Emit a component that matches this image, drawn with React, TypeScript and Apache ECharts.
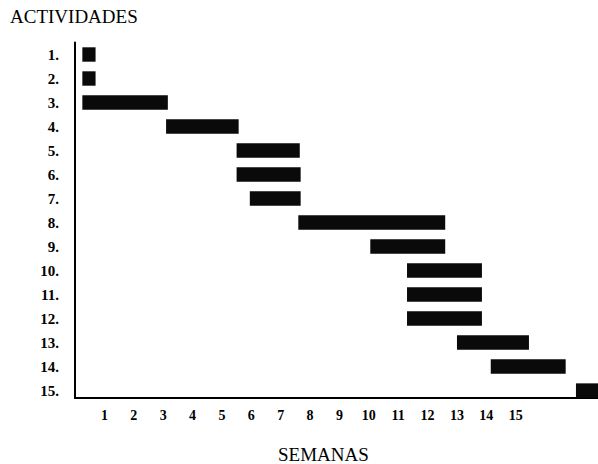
import React, { useEffect, useRef } from "react";
import * as echarts from "echarts";

// Activities (rows) and their start / end in weeks
const activities = ["1.", "2.", "3.", "4.", "5.", "6.", "7.", "8.", "9.", "10.", "11.", "12.", "13.", "14.", "15."];
const startWeek = [0.25, 0.25, 0.25, 3.1, 5.5, 5.5, 5.95, 7.6, 10.05, 11.3, 11.3, 11.3, 13.0, 14.15, 17.05];
const endWeek = [0.7, 0.7, 3.16, 5.57, 7.65, 7.68, 7.68, 12.6, 12.6, 13.85, 13.85, 13.85, 15.45, 16.7, 17.8];
const weekLabels = ["1", "2", "3", "4", "5", "6", "7", "8", "9", "10", "11", "12", "13", "14", "15"];

const FONT = "'Liberation Serif', 'DejaVu Serif', serif";

export default function App() {
  const ref = useRef<HTMLDivElement>(null);
  useEffect(() => {
    if (!ref.current) return;
    const chart = echarts.init(ref.current, undefined, { renderer: "svg" });
    const rows = activities.map((_, i) => i + 1);
    const data = activities.map((_, i) => [i + 1, startWeek[i], endWeek[i]]);
    chart.setOption({
      animation: false,
      backgroundColor: "#fff",
      title: [
        {
          text: "ACTIVIDADES",
          left: 10,
          top: 7,
          padding: 0,
          textStyle: { fontFamily: FONT, fontSize: 19, fontWeight: "normal", color: "#000" },
        },
        {
          text: "SEMANAS",
          left: 278,
          top: 445,
          padding: 0,
          textStyle: { fontFamily: FONT, fontSize: 19, fontWeight: "normal", color: "#000" },
        },
      ],
      grid: { left: 75, right: 0, top: 42.5, bottom: 66, containLabel: false },
      xAxis: {
        type: "value",
        min: 0,
        max: 17.8,
        interval: 1,
        axisLine: { show: true, lineStyle: { color: "#000", width: 2 } },
        axisTick: { show: false },
        splitLine: { show: false },
        axisLabel: {
          margin: 10,
          fontFamily: FONT,
          fontSize: 14,
          fontWeight: "bold",
          color: "#000",
          showMaxLabel: false,
          formatter: (v: number) => weekLabels[v - 1] ?? "",
        },
      },
      yAxis: {
        type: "value",
        inverse: true,
        min: 0.5,
        max: 15.31,
        axisLine: { show: true, lineStyle: { color: "#000", width: 2 } },
        axisTick: { show: false },
        splitLine: { show: false },
        axisLabel: {
          margin: 16,
          fontFamily: FONT,
          fontSize: 15,
          fontWeight: "bold",
          color: "#000",
          customValues: rows,
          formatter: (v: number) => activities[v - 1] ?? "",
        },
      },
      series: [
        {
          type: "custom",
          encode: { x: [1, 2], y: 0 },
          data,
          renderItem: (params: any, api: any) => {
            const row = api.value(0);
            const s = api.coord([api.value(1), row]);
            const e = api.coord([api.value(2), row]);
            const h = api.size([0, 1])[1] * 0.6;
            return {
              type: "rect",
              shape: { x: s[0], y: s[1] - h / 2, width: e[0] - s[0], height: h },
              style: { fill: "#0a0a0a" },
            };
          },
        },
      ],
    });
    return () => chart.dispose();
  }, []);
  return (
    <div
      ref={ref}
      style={{ position: "fixed", left: 0, top: 0, width: 598, height: 464, background: "#fff" }}
    />
  );
}
